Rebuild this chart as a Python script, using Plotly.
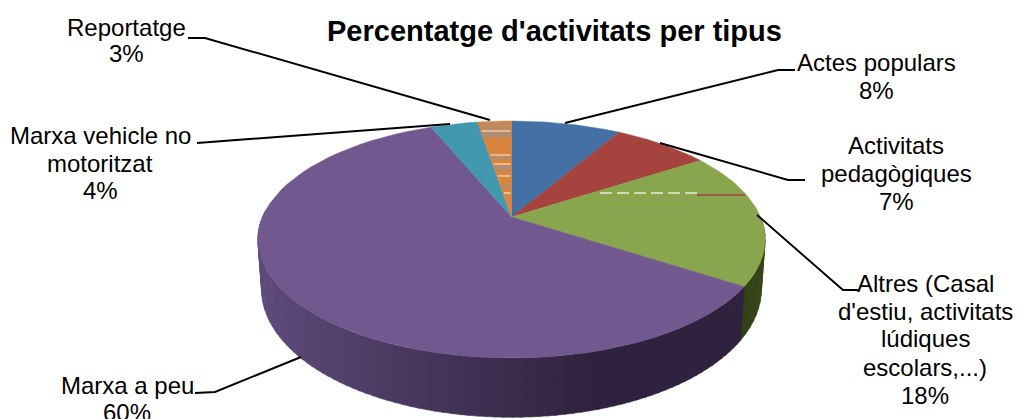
import math
import plotly.graph_objects as go

categories = ["Actes populars", "Activitats pedagògiques", "Altres (Casal d'estiu, activitats lúdiques escolars,...)",
              "Marxa a peu", "Marxa vehicle no motoritzat", "Reportatge"]
shares = [8.4, 7.4, 18.4, 59.6, 3.6, 2.6]
colors = ["#4470a5", "#a5433f", "#89a54e", "#71588f", "#4198af", "#db843d"]
label_lines = [
    ["Actes populars", "8%"],
    ["Activitats", "pedagògiques", "7%"],
    ["Altres (Casal", "d'estiu, activitats", "lúdiques", "escolars,...)", "18%"],
    ["Marxa a peu", "60%"],
    ["Marxa vehicle no", "motoritzat", "4%"],
    ["Reportatge", "3%"],
]
label_x = [876, 896, 925, 127, 100, 126]
label_y = [[62, 90], [145, 173, 201], [283, 311, 338, 367, 395], [385, 412], [135, 163, 190], [27, 53]]
leaders = [
    [(795, 70), (778, 70), (565, 123)],
    [(805, 180), (788, 180), (660, 143)],
    [(858, 290), (843, 290), (757, 215)],
    [(195, 393), (215, 392), (301, 357)],
    [(197, 143), (210, 142), (450, 124)],
    [(188, 38), (205, 38), (490, 120)],
]
orange_stripes = [(124, "#7f97b5"), (128, "#7f97b5"), (131, "#d9dde0"), (134, "#7f97b5"), (136, "#7f97b5"),
                  (155, "#e8d9c0"), (158, "#7f97b5"), (164, "#e8e0d0"), (167, "#7f97b5"), (170, "#7f97b5"),
                  (176, "#e8e0d0"), (186, "#7f97b5"), (193, "#f0ece0")]

CX, CY = 511.5, 217
A, B, P = 249, 114.2, 0.19
DEPTH = 48


def project(theta):
    u, v = math.sin(theta), math.cos(theta)
    w = 1 + P * v
    return CX + A * u / w, CY - B * v / w, w


def rim(a0, a1, n=60):
    return [project(a0 + (a1 - a0) * i / n) for i in range(n + 1)]


def bottom(theta):
    x, y, w = project(theta)
    return CX + (x - CX) * 0.985, y + DEPTH / w


def mix(c1, c2, t):
    t = max(0, min(1, t))
    return "rgb(%d,%d,%d)" % tuple(round(a + (b - a) * t) for a, b in zip(c1, c2))


fig = go.Figure()

cum = [0]
for s in shares:
    cum.append(cum[-1] + s)
ang = [c / 100 * 2 * math.pi for c in cum]

# wall of the pie, in thin bands
wall = [(2, (58, 74, 26), (50, 64, 22)), (3, (48, 34, 62), (94, 74, 122))]
for idx, c_right, c_left in wall:
    a0 = max(ang[idx], math.pi / 2)
    a1 = min(ang[idx + 1], 3 * math.pi / 2 + 0.05)
    n = 90 if idx == 3 else 12
    for k in range(n):
        t0 = a0 + (a1 - a0) * k / n
        t1 = a0 + (a1 - a0) * (k + 1) / n + 0.004
        xt0, yt0, _ = project(t0)
        xt1, yt1, _ = project(t1)
        xb0, yb0 = bottom(t0)
        xb1, yb1 = bottom(t1)
        col = mix(c_right, c_left, ((600 - xt0) / 340) if idx == 3 else k / n)
        fig.add_trace(go.Scatter(x=[xt0, xt1, xb1, xb0, xt0], y=[yt0, yt1, yb1, yb0, yt0],
                                 mode="lines", fill="toself", fillcolor=col,
                                 line=dict(color=col, width=0.6), hoverinfo="skip", showlegend=False))

# top face, one polygon per slice
for i, name in enumerate(categories):
    pts = rim(ang[i], ang[i + 1])
    xs = [CX] + [p[0] for p in pts] + [CX]
    ys = [CY] + [p[1] for p in pts] + [CY]
    fig.add_trace(go.Scatter(x=xs, y=ys, mode="lines", fill="toself", fillcolor=colors[i],
                             line=dict(color=colors[i], width=0.5), name=name,
                             hoverinfo="name", showlegend=False))

# scan artefacts on the top face
rx, ry, _ = project(ang[5])
for y, col in orange_stripes:
    xl = CX + (rx - CX) * (CY - y) / (CY - ry)
    fig.add_trace(go.Scatter(x=[xl + 1, CX - 1], y=[y, y], mode="lines", line=dict(color=col, width=1.2),
                             hoverinfo="skip", showlegend=False))
fig.add_trace(go.Scatter(x=[600, 697], y=[193, 193], mode="lines",
                         line=dict(color="#e8ecd8", width=1.5, dash="12px,5px"),
                         hoverinfo="skip", showlegend=False))
fig.add_trace(go.Scatter(x=[697, 745], y=[195, 195], mode="lines", line=dict(color="#a5433f", width=1.3),
                         hoverinfo="skip", showlegend=False))

for path in leaders:
    fig.add_trace(go.Scatter(x=[p[0] for p in path], y=[p[1] for p in path], mode="lines",
                             line=dict(color="black", width=1.9), hoverinfo="skip", showlegend=False))

FONT = "Liberation Sans, Arial, sans-serif"
for lines, x, ys in zip(label_lines, label_x, label_y):
    for txt, y in zip(lines, ys):
        fig.add_annotation(x=x, y=y, text=txt, showarrow=False, xanchor="center", yanchor="middle",
                           font=dict(family=FONT, size=24, color="black"))
fig.add_annotation(x=554, y=31, text="<b>Percentatge d'activitats per tipus</b>", showarrow=False,
                   xanchor="center", yanchor="middle", font=dict(family=FONT, size=29, color="black"))

fig.update_layout(width=1018, height=419, margin=dict(l=0, r=0, t=0, b=0),
                  paper_bgcolor="white", plot_bgcolor="white",
                  xaxis=dict(range=[0, 1018], visible=False, fixedrange=True),
                  yaxis=dict(range=[419, 0], visible=False, fixedrange=True))
fig.write_html("out.html", config={"displayModeBar": False},
               post_script="document.body.style.margin='0';")
